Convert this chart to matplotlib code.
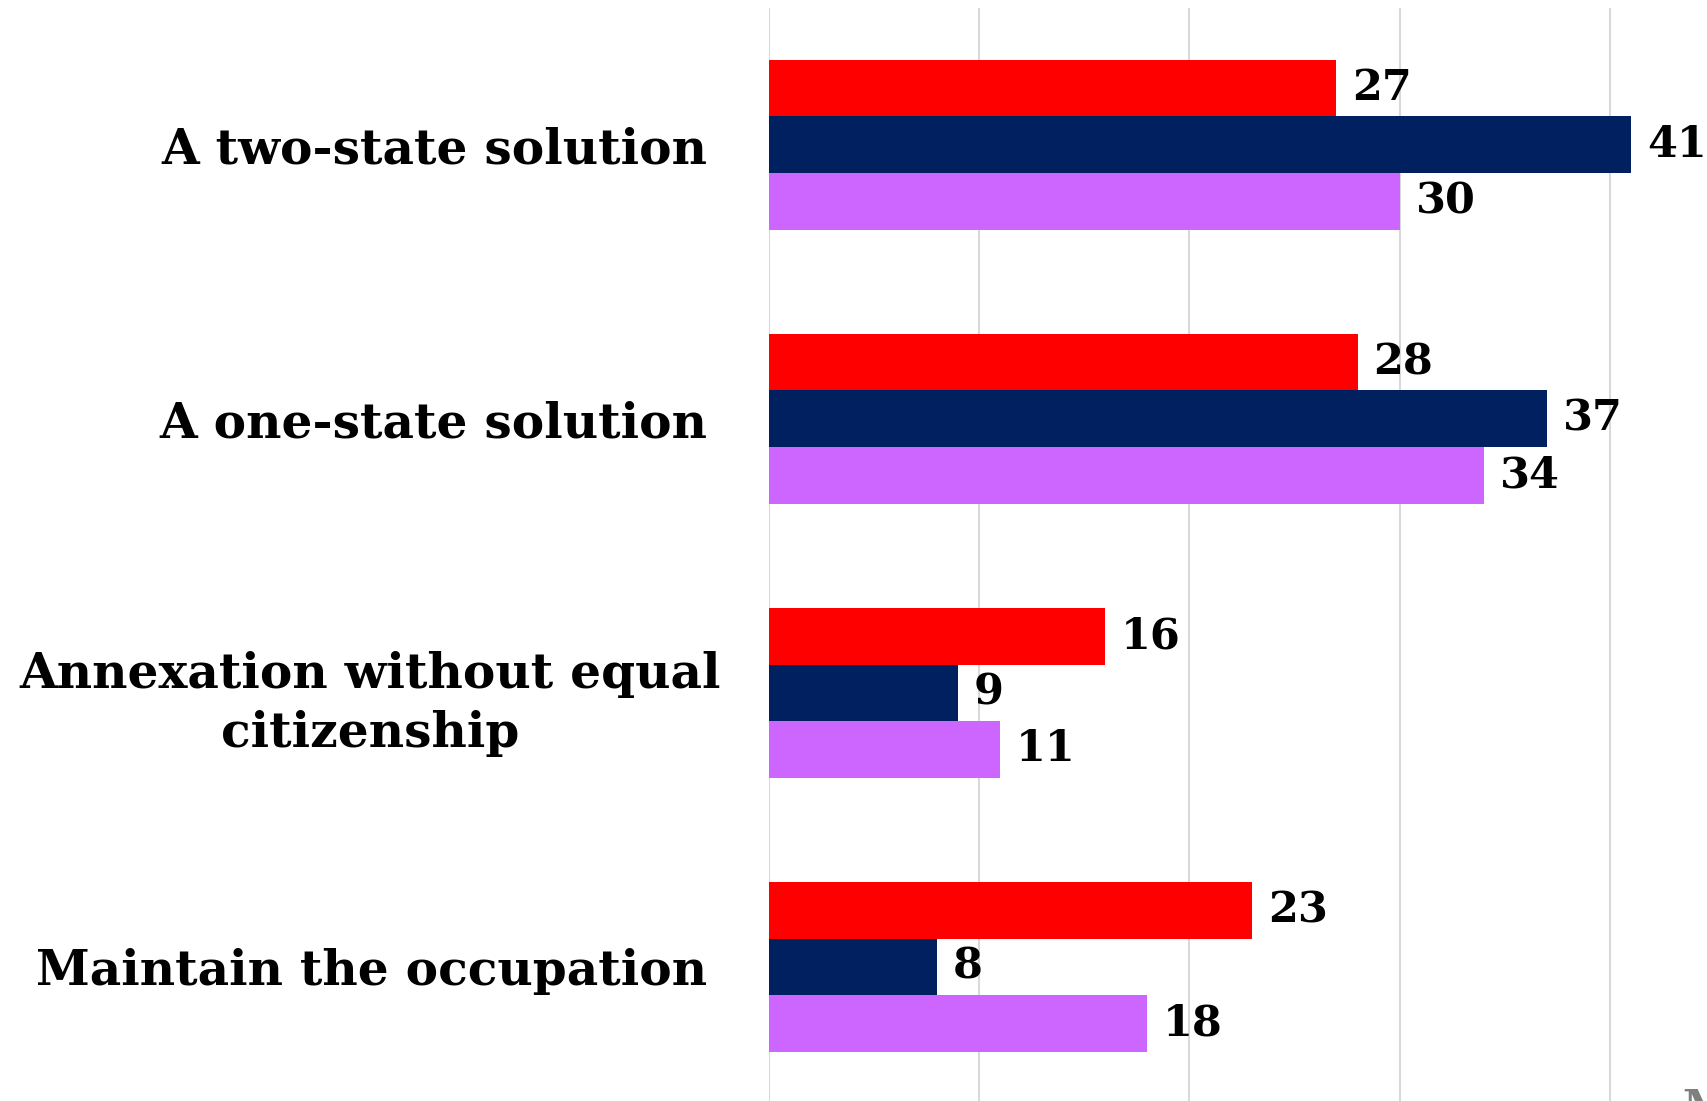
import numpy as np
from matplotlib import pyplot as plt
from matplotlib import transforms

# categories and the three series (top to bottom within each group)
categories = ["A two-state solution", "A one-state solution",
              "Annexation without equal\ncitizenship", "Maintain the occupation"]
red_vals = [27, 28, 16, 23]
navy_vals = [41, 37, 9, 8]
purple_vals = [30, 34, 11, 18]

colors = ["#FF0000", "#002060", "#CC66FF"]
font = "DejaVu Serif"

fig = plt.figure(figsize=(17.07, 11.01), dpi=100)
ax = fig.add_axes([0.4503, -0.0027, 0.616, 0.9958])

y = np.arange(len(categories))
h = 0.2066
for k, (vals, col) in enumerate(zip([red_vals, navy_vals, purple_vals], colors)):
    pos = y + (k - 1) * h
    ax.barh(pos, vals, height=h, color=col, zorder=3)
    for p, v in zip(pos, vals):
        ax.annotate(f"{v}", (v, p), xytext=(16, 0), textcoords="offset pixels",
                    va="center", ha="left", fontsize=31, fontweight="bold",
                    family=font, color="black")

ax.set_xlim(0, 50)
ax.set_ylim(3.5, -0.5)
ax.set_xticks([0, 10, 20, 30, 40, 50])
ax.xaxis.grid(True, color="#D9D9D9", linewidth=1.5, zorder=0)
ax.set_xticklabels([])
ax.tick_params(axis="both", length=0)
ax.tick_params(axis="y", pad=44)
ax.set_yticks(y)
ax.set_yticklabels(categories, fontsize=35, fontweight="bold", family=font,
                   multialignment="center", linespacing=1.32)
# the two-line label sits a little further right in the original
lbl = ax.get_yticklabels()[2]
lbl.set_transform(lbl.get_transform() + transforms.ScaledTranslation(0.13, 0, fig.dpi_scale_trans))
for s in ax.spines.values():
    s.set_visible(False)

fig.text(1682 / 1707, 1 - 1087 / 1101, "M", va="top", ha="left", fontsize=31,
         fontweight="bold", family=font, color="#7F7F7F")

fig.savefig("out.png")
